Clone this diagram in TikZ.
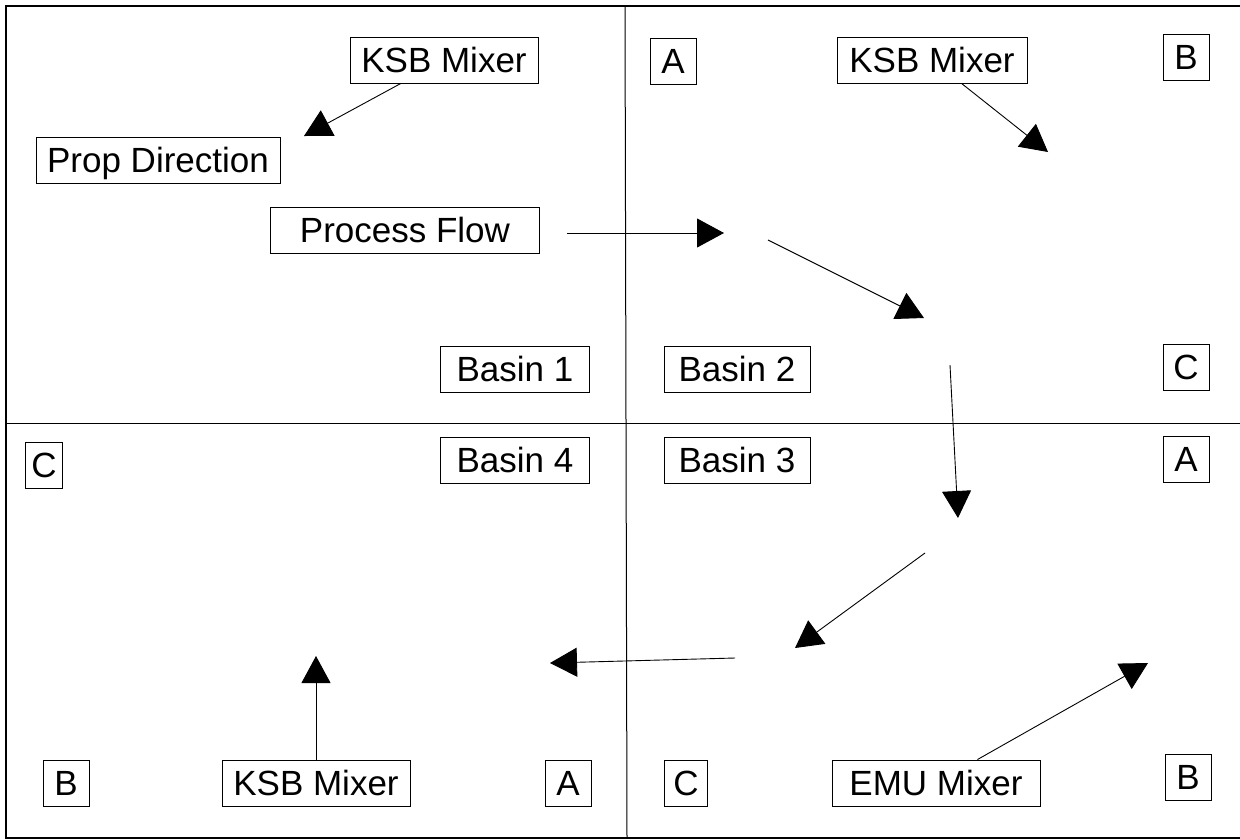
\documentclass[tikz,border=0pt]{standalone}
\usepackage{fontspec}
\setmainfont{Liberation Sans}
\usetikzlibrary{arrows.meta}

\tikzset{
  box/.style={draw,line width=0.9pt,minimum width=#1,minimum height=46pt,inner sep=0pt,
    text height=25pt,text depth=0pt,font=\fontsize{35}{40}\selectfont},
  box/.default=46pt,
  arr/.style={line width=0.9pt,-{Triangle[length=27pt,width=29pt]}}
}

\begin{document}
\begin{tikzpicture}[x=1pt,y=-1pt]

\useasboundingbox (0,0) rectangle (1240,839) ;

\draw[line width=1.2pt] (1240,6) -- (6,6) -- (6,838) -- (1240,838) ;
\draw[line width=1pt] (625,6) -- (627,838) ;
\draw[line width=1pt] (6,423) -- (1240,423) ;

% basin 1
\node[box=188pt] (ksbA) at (444,60) {KSB Mixer} ;
\node[box=244pt] (prop) at (158,160) {Prop Direction} ;
\node[box=269pt] (pflow) at (405,230) {Process Flow} ;
\node[box=149pt] (basin1) at (515,369) {Basin 1} ;

% basin 2
\node[box] (a2) at (673,61) {A} ;
\node[box=190pt] (ksbB) at (932,60) {KSB Mixer} ;
\node[box] (b2) at (1186,57) {B} ;
\node[box=146pt] (basin2) at (737,369) {Basin 2} ;
\node[box] (c2) at (1186,367) {C} ;

% basin 4
\node[box=37pt] (c4) at (44,465) {C} ;
\node[box=149pt] (basin4) at (515,460) {Basin 4} ;
\node[box] (b4) at (66,783) {B} ;
\node[box=188pt] (ksbC) at (316,783) {KSB Mixer} ;
\node[box] (a4) at (568,783) {A} ;

% basin 3
\node[box=146pt] (basin3) at (737,460) {Basin 3} ;
\node[box] (a3) at (1186,459) {A} ;
\node[box=43pt] (c3) at (686,783) {C} ;
\node[box=208pt] (emu) at (936,783) {EMU Mixer} ;
\node[box] (b3) at (1188,777) {B} ;

\coordinate (propend) at (304,136) ;
\coordinate (ksbend) at (1048,152) ;
\coordinate (f1) at (724,233) ;
\coordinate (f2s) at (768,240) ;
\coordinate (f2) at (924,318) ;
\coordinate (f3s) at (950,365) ;
\coordinate (f3) at (958,518) ;
\coordinate (f4s) at (925,553) ;
\coordinate (f4) at (795,648) ;
\coordinate (f5s) at (735,658) ;
\coordinate (f5) at (550,663) ;
\coordinate (ksbCend) at (316,656) ;
\coordinate (emuend) at (1148,663) ;

\draw[arr] (ksbA) -- (propend) ;
\draw[arr] (ksbB) -- (ksbend) ;
\draw[arr] ([xshift=27pt,yshift=-3pt]pflow.east) -- (f1) ;
\draw[arr] (f2s) -- (f2) ;
\draw[arr] (f3s) -- (f3) ;
\draw[arr] (f4s) -- (f4) ;
\draw[arr] (f5s) -- (f5) ;
\draw[arr] (ksbC) -- (ksbCend) ;
\draw[arr] (emu) -- (emuend) ;

\end{tikzpicture}
\end{document}
